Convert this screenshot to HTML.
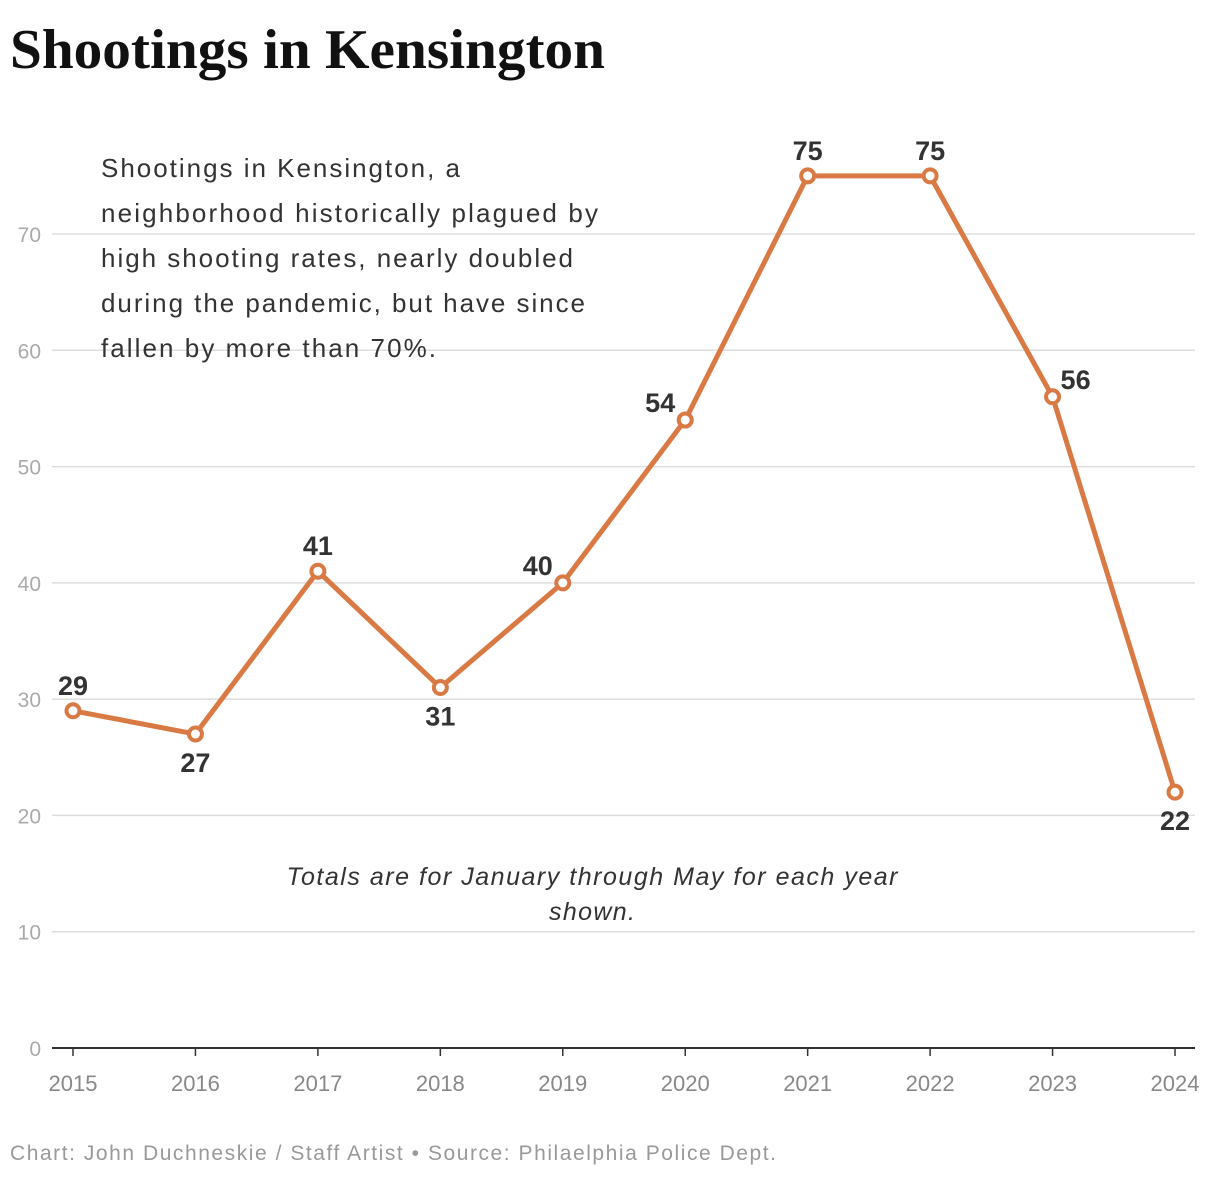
<!DOCTYPE html>
<html><head><meta charset="utf-8"><style>
body{margin:0;background:#fff;width:1220px;height:1178px;overflow:hidden;font-family:"Liberation Sans",sans-serif}
</style></head><body>
<svg width="1220" height="1178">
<text x="10" y="68" font-family="Liberation Serif" font-weight="bold" font-size="56" textLength="595" lengthAdjust="spacingAndGlyphs" fill="#111">Shootings in Kensington</text>
<g id="grid"></g>
<g id="xaxis"></g>
<g id="series"></g>
<g font-size="26" fill="#333" lengthAdjust="spacingAndGlyphs">
<text x="101" y="177" textLength="359">Shootings in Kensington, a</text>
<text x="101" y="222" textLength="497">neighborhood historically plagued by</text>
<text x="101" y="267" textLength="472">high shooting rates, nearly doubled</text>
<text x="101" y="312" textLength="484">during the pandemic, but have since</text>
<text x="101" y="357" textLength="335">fallen by more than 70%.</text>
</g>
<g font-size="25" font-style="italic" fill="#333" text-anchor="middle">
<text x="592" y="885" textLength="611">Totals are for January through May for each year</text>
<text x="592" y="920" textLength="86">shown.</text>
</g>
<text x="10" y="1160" font-size="21" fill="#999" textLength="766">Chart: John Duchneskie / Staff Artist • Source: Philaelphia Police Dept.</text>
</svg>
<script>
const years=[2015,2016,2017,2018,2019,2020,2021,2022,2023,2024];
const values=[29,27,41,31,40,54,75,75,56,22];
const yTicks=[0,10,20,30,40,50,60,70];
const labelPos=['above','below','above','below','left','left','above','above','right','below'];
const NS='http://www.w3.org/2000/svg';
const x=i=>73+i*(1175-73)/(years.length-1);
const y=v=>1048-v*(1048-234)/70;
function mk(tag,attrs,parent,text){const e=document.createElementNS(NS,tag);for(const k in attrs)e.setAttribute(k,attrs[k]);if(text!=null)e.textContent=text;parent.appendChild(e);return e;}
const grid=document.getElementById('grid');
yTicks.forEach(t=>{
 if(t>0){const l=mk('line',{x1:52,x2:1195,y1:y(t),y2:y(t),stroke:'#ddd','stroke-width':1.5},grid);
 
 }
 const tx=mk('text',{x:41,y:y(t)+8,'text-anchor':'end','font-size':21,fill:'#aaa'},grid,t);
 
 
});
const xa=document.getElementById('xaxis');
const base=mk('line',{x1:52,x2:1195,y1:1048,y2:1048,stroke:'#333','stroke-width':2},xa);


years.forEach((yr,i)=>{
 const tk=mk('line',{x1:x(i),x2:x(i),y1:1048,y2:1056,stroke:'#333','stroke-width':1.5},xa);
 
 
 const t=mk('text',{x:x(i),y:1091,'text-anchor':'middle','font-size':22,fill:'#888'},xa,yr);
 
 
});
const s=document.getElementById('series');
const line=mk('polyline',{points:values.map((v,i)=>x(i)+','+y(v)).join(' '),fill:'none',stroke:'#d97a45','stroke-width':5,'stroke-linejoin':'round'},s);


values.forEach((v,i)=>{
 const c=mk('circle',{cx:x(i),cy:y(v),r:6.5,fill:'#fff',stroke:'#d97a45','stroke-width':4},s);
 
 
 let lx=x(i),ly=y(v),a='middle';
 const p=labelPos[i];
 if(p==='above')ly-=16;else if(p==='below'){ly+=38;}else if(p==='left'){lx-=10;ly-=8;a='end';}else{lx+=8;ly-=8;a='start';}
 const t=mk('text',{x:lx,y:ly,'text-anchor':a,'font-size':27,'font-weight':'bold',fill:'#333'},s,v);
 
 
});
</script>
</body></html>
